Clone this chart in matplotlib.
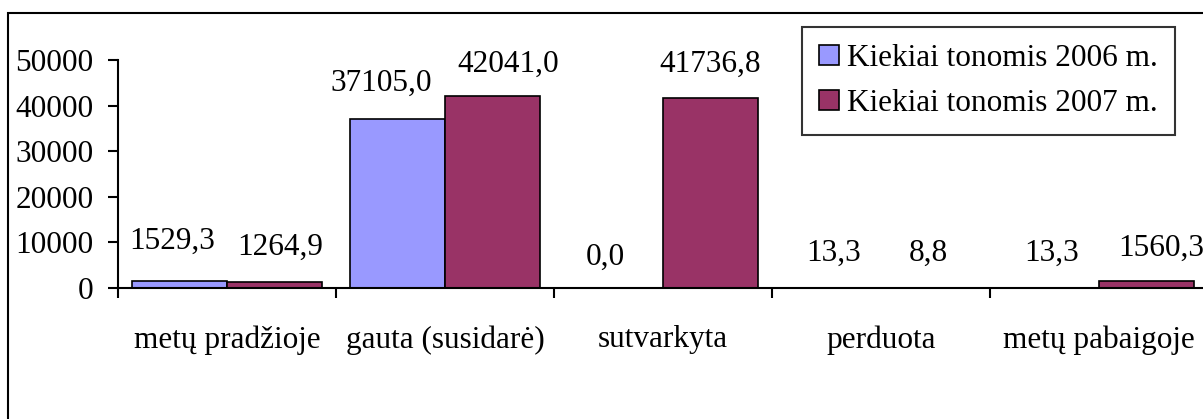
import numpy as np
import matplotlib.pyplot as plt
from matplotlib.patches import Rectangle

categories = ['metų pradžioje', 'gauta (susidarė)', 'sutvarkyta', 'perduota', 'metų pabaigoje']
values_2006 = [1529.3, 37105.0, 0.0, 13.3, 13.3]
values_2007 = [1264.9, 42041.0, 41736.8, 8.8, 1560.3]
series_names = ['Kiekiai tonomis 2006 m.', 'Kiekiai tonomis 2007 m.']
yticks = [0, 10000, 20000, 30000, 40000, 50000]

# label nudges (px) as placed in the original chart
dx_2006 = [-7, -16, -10, 0, 0]
dx_2007 = [6, 16, 0, 0, 15]
dy_2006 = [40, 35, 31, 35, 35]
dy_2007 = [35, 32, 33, 35, 33]

plt.rcParams['font.family'] = ['Liberation Serif', 'DejaVu Serif']
fs = 22.5

W, H = 1203, 419
fig = plt.figure(figsize=(W / 100, H / 100), dpi=100)
fig.patches.append(Rectangle((8 / W, -0.1), 1.2, 1 - 13 / H + 0.1, transform=fig.transFigure,
                             fill=False, edgecolor='black', linewidth=1.5))

ax = fig.add_axes([118 / W, 1 - 288 / H, (1208 - 118) / W, (288 - 60) / H])
x = np.arange(len(categories))
bw = 95 / 218
b1 = ax.bar(x - bw / 2, values_2006, bw, color='#9999FF', edgecolor='black', linewidth=1.2,
            label=series_names[0])
b2 = ax.bar(x + bw / 2, values_2007, bw, color='#993366', edgecolor='black', linewidth=1.2,
            label=series_names[1])

def fmt(v):
    return f'{v:.1f}'.replace('.', ',')

for bars, vals, dxs, dys in [(b1, values_2006, dx_2006, dy_2006), (b2, values_2007, dx_2007, dy_2007)]:
    for r, v, dx, dy in zip(bars, vals, dxs, dys):
        ax.annotate(fmt(v), (r.get_x() + r.get_width() / 2, v), xytext=(dx * 0.72, dy * 0.72),
                    textcoords='offset points', ha='center', va='center', fontsize=fs,
                    annotation_clip=False)

ax.set_xlim(-0.5, len(categories) - 0.5)
ax.set_ylim(0, 50000)
ax.set_yticks(yticks)
ax.set_yticklabels([str(t) for t in yticks], fontsize=fs)
ax.set_xticks(x)
ax.set_xticklabels(categories, fontsize=fs)
ax.set_xticks(np.arange(-0.5, len(categories)), minor=True)
ax.tick_params(axis='x', which='major', length=0, pad=27)
ax.tick_params(axis='x', which='minor', length=7, width=1.5, direction='out')
ax.tick_params(axis='y', length=7, width=1.5, direction='out', pad=10.5)
for s in ['top', 'right']:
    ax.spines[s].set_visible(False)
for s in ['left', 'bottom']:
    ax.spines[s].set_linewidth(1.5)

leg = ax.legend(loc='upper left', bbox_to_anchor=(802 / W, 1 - 27 / H), bbox_transform=fig.transFigure,
                fontsize=fs, frameon=True, fancybox=False, edgecolor='black', handlelength=0.62,
                handleheight=0.62, handletextpad=0.28, borderpad=0.55, labelspacing=0.5,
                borderaxespad=0)
leg.get_frame().set_linewidth(1.5)

fig.savefig('out.png', dpi=100)
